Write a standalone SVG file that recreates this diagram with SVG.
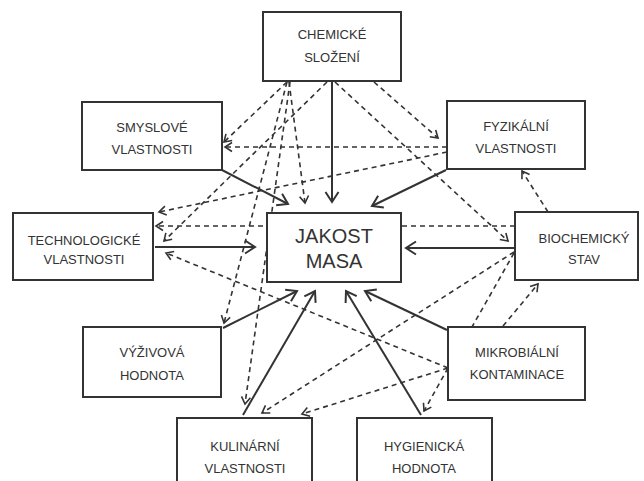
<svg xmlns="http://www.w3.org/2000/svg" width="644" height="481" viewBox="0 0 644 481">
<style>
.box{fill:#fff;stroke:#333;stroke-width:2}
.t{font-family:"Liberation Sans",Arial,sans-serif;font-size:13px;fill:#333;text-anchor:middle}
.tb{font-family:"Liberation Sans",Arial,sans-serif;font-size:20px;fill:#333;text-anchor:middle}
.s{stroke:#333;stroke-width:2;fill:none;marker-end:url(#ah)}
.d{stroke:#333;stroke-width:1.6;fill:none;stroke-dasharray:5 4;marker-end:url(#ad)}
.dn{stroke:#333;stroke-width:1.6;fill:none;stroke-dasharray:5 4}
</style>
<defs>
<marker id="ah" markerUnits="userSpaceOnUse" markerWidth="16" markerHeight="16" refX="12" refY="8" orient="auto"><path d="M2,1.5 L12,8 L2,14.5" fill="none" stroke="#333" stroke-width="2"/></marker>
<marker id="ad" markerUnits="userSpaceOnUse" markerWidth="12" markerHeight="12" refX="9" refY="6" orient="auto"><path d="M2,1.5 L9,6 L2,10.5" fill="none" stroke="#333" stroke-width="1.6"/></marker>
</defs>
<rect width="644" height="481" fill="#fff"/>
<g id="connectors">
<!-- solid arrows to JAKOST MASA -->
<line class="s" x1="332" y1="81" x2="332" y2="202"/>
<line class="s" x1="222" y1="170" x2="288" y2="204"/>
<line class="s" x1="446" y1="170" x2="372" y2="206"/>
<line class="s" x1="155" y1="247" x2="255" y2="247"/>
<line class="s" x1="515" y1="248" x2="406" y2="248"/>
<line class="s" x1="223" y1="328" x2="297" y2="291"/>
<line class="s" x1="243" y1="415" x2="315" y2="291"/>
<line class="s" x1="421" y1="415" x2="346" y2="291"/>
<line class="s" x1="447" y1="330" x2="365" y2="291"/>
<!-- dashed -->
<line class="d" x1="287" y1="82" x2="224" y2="142"/>
<line class="d" x1="289" y1="82" x2="305" y2="203"/>
<line class="d" x1="327" y1="82" x2="164" y2="241"/>
<line class="d" x1="287" y1="82" x2="224" y2="323"/>
<line class="d" x1="290" y1="82" x2="245" y2="404"/>
<line class="d" x1="374" y1="82" x2="438" y2="138"/>
<line class="d" x1="335" y1="82" x2="508" y2="241"/>
<line class="d" x1="447" y1="147" x2="225" y2="147"/>
<line class="d" x1="447" y1="152" x2="159" y2="212"/>
<line class="d" x1="515" y1="226" x2="156" y2="226"/>
<line class="d" x1="548" y1="212" x2="522" y2="171"/>
<line class="d" x1="514" y1="252" x2="262" y2="413"/>
<line class="dn" x1="514" y1="253" x2="472" y2="327"/>
<line class="d" x1="503" y1="326" x2="538" y2="284"/>
<line class="d" x1="448" y1="368" x2="424" y2="411"/>
<line class="d" x1="448" y1="368" x2="166" y2="253"/>
<line class="d" x1="448" y1="368" x2="302" y2="414"/>
</g>
<g id="chemicke"><rect class="box" x="263" y="12" width="138" height="69"/><text class="t" x="332" y="39">CHEMICKÉ</text><text class="t" x="332" y="62">SLOŽENÍ</text></g>
<g id="smyslove"><rect class="box" x="82" y="102" width="140" height="68"/><text class="t" x="152" y="132">SMYSLOVÉ</text><text class="t" x="152" y="154">VLASTNOSTI</text></g>
<g id="fyzikalni"><rect class="box" x="447" y="101" width="138" height="68"/><text class="t" x="516" y="131">FYZIKÁLNÍ</text><text class="t" x="516" y="153">VLASTNOSTI</text></g>
<g id="technologicke"><rect class="box" x="13" y="213" width="140" height="67"/><text class="t" x="84" y="245">TECHNOLOGICKÉ</text><text class="t" x="84" y="264">VLASTNOSTI</text></g>
<g id="jakost"><rect class="box" x="267" y="213" width="134" height="69"/><text class="tb" x="334" y="243">JAKOST</text><text class="tb" x="334" y="268">MASA</text></g>
<g id="biochemicky"><rect class="box" x="515" y="212" width="123" height="68"/><text class="t" x="584" y="243">BIOCHEMICKÝ</text><text class="t" x="584" y="264">STAV</text></g>
<g id="vyzivova"><rect class="box" x="83" y="327" width="138" height="70"/><text class="t" x="152" y="357">VÝŽIVOVÁ</text><text class="t" x="152" y="380">HODNOTA</text></g>
<g id="mikrobialni"><rect class="box" x="448" y="327" width="137" height="73"/><text class="t" x="517" y="357">MIKROBIÁLNÍ</text><text class="t" x="517" y="379">KONTAMINACE</text></g>
<g id="kulinarni"><rect class="box" x="177" y="418" width="135" height="75"/><text class="t" x="245" y="451">KULINÁRNÍ</text><text class="t" x="245" y="473">VLASTNOSTI</text></g>
<g id="hygienicka"><rect class="box" x="357" y="418" width="135" height="75"/><text class="t" x="424" y="451">HYGIENICKÁ</text><text class="t" x="424" y="473">HODNOTA</text></g>
</svg>
